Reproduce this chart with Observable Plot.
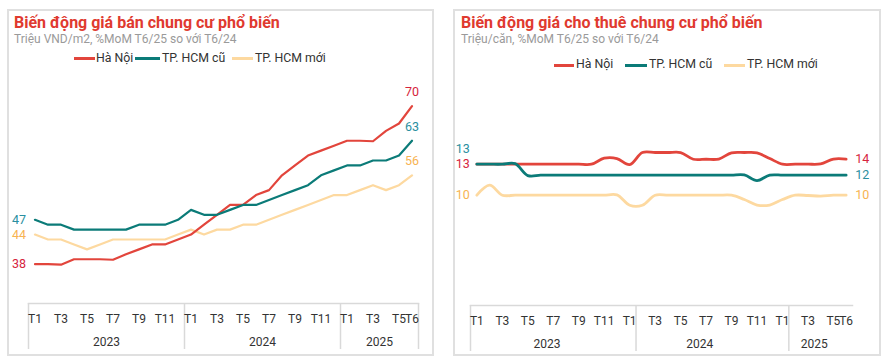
<!DOCTYPE html>
<html><head><meta charset="utf-8">
<script src="https://cdn.jsdelivr.net/npm/d3@7"></script>
<script src="https://cdn.jsdelivr.net/npm/@observablehq/plot@0.6"></script>
<style>
body{margin:0;width:889px;height:364px;position:relative;background:#fff;font-family:Roboto,sans-serif;overflow:hidden}
.panel{position:absolute;top:9px;height:347px;border:2px solid #e0e0e0;box-sizing:border-box}
.title{position:absolute;font-weight:700;font-size:16px;line-height:1;color:#e03a2f;white-space:nowrap}
.sub{position:absolute;font-size:12px;line-height:1;color:#9a9a9a;white-space:nowrap}
.lg{position:absolute;font-size:12.3px;line-height:1;color:#333;white-space:nowrap}
.sw{position:absolute;height:3px}
.chart{position:absolute;top:70px}
</style></head><body>
<div class="panel" style="left:7px;width:427px"></div>
<div class="panel" style="left:453px;width:428px"></div>

<div class="title" style="left:14px;top:14.6px">Biến động giá bán chung cư phổ biến</div>
<div class="sub" style="left:14px;top:33.2px">Triệu VND/m2, %MoM T6/25 so với T6/24</div>
<div class="sw" style="left:74px;top:57px;width:21px;background:#e2453c"></div>
<div class="lg" style="left:96px;top:52px">Hà Nội</div>
<div class="sw" style="left:135px;top:57px;width:25px;background:#0b7b78"></div>
<div class="lg" style="left:162px;top:52px">TP. HCM cũ</div>
<div class="sw" style="left:232px;top:57px;width:21px;background:#fdd9a0"></div>
<div class="lg" style="left:255px;top:52px">TP. HCM mới</div>

<div class="title" style="left:461px;top:14.8px">Biến động giá cho thuê chung cư phổ biến</div>
<div class="sub" style="left:461px;top:32.8px">Triệu/căn, %MoM T6/25 so với T6/24</div>
<div class="sw" style="left:554px;top:63.5px;width:20px;background:#e2453c"></div>
<div class="lg" style="left:576px;top:58px">Hà Nội</div>
<div class="sw" style="left:625px;top:63.5px;width:22px;background:#0b7b78"></div>
<div class="lg" style="left:649px;top:58px">TP. HCM cũ</div>
<div class="sw" style="left:724px;top:63.5px;width:21px;background:#fdd9a0"></div>
<div class="lg" style="left:747px;top:58px">TP. HCM mới</div>

<div id="left" class="chart" style="left:0px"></div>
<div id="right" class="chart" style="left:445px"></div>

<script>
const months = ["T1","T2","T3","T4","T5","T6","T7","T8","T9","T10","T11","T12",
                "T1","T2","T3","T4","T5","T6","T7","T8","T9","T10","T11","T12",
                "T1","T2","T3","T4","T5","T6"];
const monthTicks = [0,2,4,6,8,10,12,14,16,18,20,22,24,26,28,29];
const years = ["2023","2024","2025"];
const series = ["Hà Nội","TP. HCM cũ","TP. HCM mới"];
const lineColors = ["#e2453c","#0b7b78","#fdd9a0"];
const labelColors = ["#d6243d","#2a8fa0","#f7b352"];

// Giá bán (triệu VND/m2)
const saleHN     = [38,38,37.9,39,39,39,38.9,40,41,42,42,43,44,46,48,50,50,52,53,56,58,60,61,62,63,63,62.9,65,66.5,70];
const saleHCMOld = [47,46,46,45,45,45,45,45,46,46,46,47,49,48,48,49,50,50,51,52,53,54,56,57,58,58,59,59,60,63];
const saleHCMNew = [44,43,43,42,41,42,43,43,43,43,43,44,45,44,45,45,46,46,47,48,49,50,51,52,52,53,54,53,54,56];

// Giá cho thuê (triệu/căn)
const rentHN     = [13,13,13,13,13,13,13,13,13,13,13.58,13.55,12.97,14.13,14.13,14.13,14.13,13.48,13.48,13.5,14.1,14.13,14.1,13.55,13,13,13,13.03,13.5,13.5];
const rentHCMOld = [13,13,13,13.05,11.9,11.94,11.94,11.94,11.94,11.94,11.94,11.94,11.94,11.94,11.94,11.94,11.94,11.94,11.94,11.94,11.94,11.96,11.42,11.94,11.94,11.94,11.94,11.94,11.94,11.94];
const rentHCMNew = [10,10.97,10,10,10,10,10,10,10,10,10,10.03,9.03,9.03,10,10,10,10,10,10,10,9.58,9.05,9.05,9.58,10,9.97,9.92,10,10];

function rows(arrs) {
  const out = [];
  arrs.forEach((a, k) => a.forEach((v, i) => out.push({i, v, s: series[k], k})));
  return out;
}
const order = [2, 0, 1]; // draw yellow, red, teal

function chart(el, cfg) {
  const data = rows(cfg.arrs);
  const marks = [
    Plot.frame({anchor: "bottom", stroke: "#d9d9d9", strokeWidth: 1.5}),
    Plot.axisX({ticks: cfg.seps, tickSize: 46, tickFormat: () => "", stroke: "#d9d9d9", strokeWidth: 1.5}),
    Plot.axisX({ticks: monthTicks, tickSize: 0, tickPadding: cfg.mPad, tickFormat: i => months[i], fill: "#333", fontSize: 12}),
    Plot.axisX({ticks: [5.5, 17.5, 26.5], tickSize: 0, tickPadding: cfg.yPad, tickFormat: (d, j) => years[j], fill: "#333", fontSize: 12})
  ];
  for (const k of order) {
    marks.push(Plot.line(data.filter(d => d.k === k), {x: "i", y: "v", stroke: lineColors[k], strokeWidth: cfg.sw, curve: cfg.curve}));
  }
  for (const k of order) {
    const d = data.filter(r => r.k === k);
    const first = d[0], last = d[d.length - 1];
    marks.push(Plot.text([first], {x: "i", y: "v", text: r => String(Math.round(r.v)), fill: labelColors[k], fontSize: 12.5,
      textAnchor: "end", dx: cfg.startDx, dy: cfg.startDy[k]}));
    marks.push(Plot.text([last], {x: "i", y: "v", text: r => String(Math.round(r.v)), fill: labelColors[k], fontSize: 12.5,
      textAnchor: cfg.endAnchor, dx: cfg.endDx, dy: cfg.endDy}));
  }
  el.append(Plot.plot({
    width: cfg.width, height: 294,
    marginLeft: cfg.ml, marginRight: cfg.mr, marginTop: 0, marginBottom: cfg.mb,
    x: {domain: [-0.5, 29.5], label: null},
    y: {domain: cfg.yDomain, range: cfg.yRange, axis: null},
    style: {fontFamily: "Roboto, sans-serif", fontSize: "12px", overflow: "visible", background: "transparent"},
    marks
  }));
}

chart(document.getElementById("left"), {
  arrs: [saleHN, saleHCMOld, saleHCMNew],
  width: 445, ml: 28, mr: 27, mb: 61,
  yDomain: [38, 70], yRange: [193.7, 35.7],
  seps: [-0.5, 11.5, 23.5, 29.5], mPad: 11, yPad: 34,
  sw: 2.2, curve: "linear",
  startDx: -9, startDy: [0, 0, 0],
  endAnchor: "middle", endDx: 0, endDy: -14
});

chart(document.getElementById("right"), {
  arrs: [rentHN, rentHCMOld, rentHCMNew],
  width: 444, ml: 25, mr: 37, mb: 59,
  yDomain: [10, 13], yRange: [124.7, 93.7],
  seps: [-0.5, 12.5, 24.5], mPad: 11, yPad: 33.5,
  sw: 2.8, curve: "catmull-rom",
  startDx: -7, startDy: [0, -15, 0],
  endAnchor: "start", endDx: 9, endDy: 0
});
</script>
</body></html>
